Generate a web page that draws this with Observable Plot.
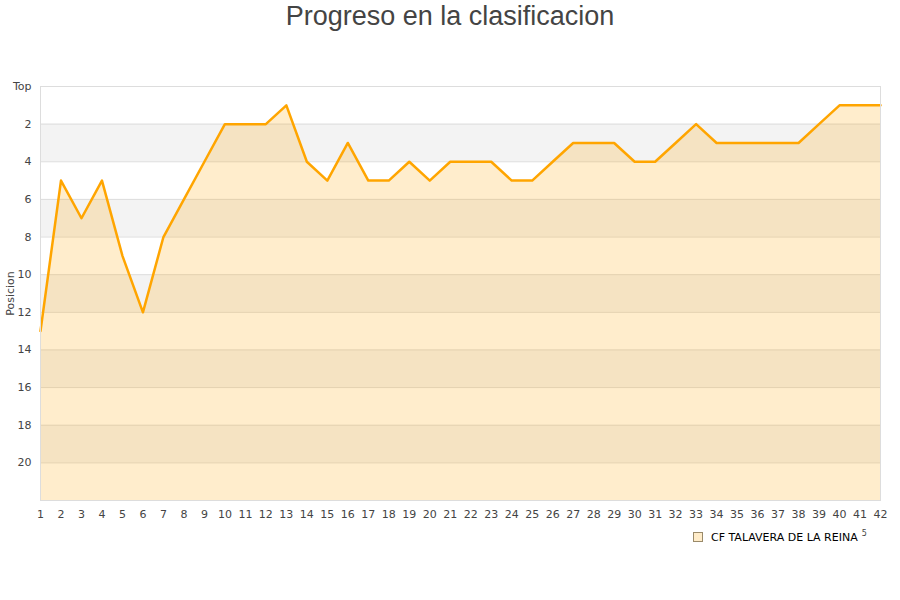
<!DOCTYPE html>
<html>
<head>
<meta charset="utf-8">
<script src="https://cdn.jsdelivr.net/npm/d3@7"></script>
<script src="https://cdn.jsdelivr.net/npm/@observablehq/plot@0.6"></script>
<style>
  body { margin: 0; background: #fff; position: relative; width: 900px; height: 600px; }
  #title { height: 40px; text-align: center; font-family: "Liberation Sans", Arial, sans-serif; font-size: 27px; color: #444; line-height: 32px; }
  #legend { position: absolute; left: 693px; top: 529px; font-family: "DejaVu Sans", sans-serif; font-size: 11px; color: #000; }
  #legend .sw { display: inline-block; width: 8px; height: 8px; background: #ffecc9; border: 1px solid #9a8a6a; margin-right: 8px; vertical-align: -1px; }
  #legend sup { font-size: 8px; color: #444; margin-left: 4px; }
</style>
</head>
<body>
<div id="title">Progreso en la clasificacion</div>
<div id="chart"></div>
<div id="legend"><span class="sw"></span>CF TALAVERA DE LA REINA<sup>5</sup></div>
<script>
// jornadas y posicion de cada jornada
const jornadas = d3.range(1, 43);
const posiciones = [13, 5, 7, 5, 9, 12, 8, 6, 4, 2, 2, 2, 1, 4, 5, 3, 5, 5, 4, 5, 4,
                    4, 4, 5, 5, 4, 3, 3, 3, 4, 4, 3, 2, 3, 3, 3, 3, 3, 2, 1, 1, 1];
const yTicks = [0, 2, 4, 6, 8, 10, 12, 14, 16, 18, 20];
const equipo = "CF TALAVERA DE LA REINA";

const datos = jornadas.map((j, i) => ({jornada: j, pos: posiciones[i]}));
// franjas grises alternas
const franjas = [2, 6, 10, 14, 18].map(b => ({y1: b, y2: b + 2}));

const plot = Plot.plot({
    width: 900,
    height: 480,
    marginTop: 46,
    marginLeft: 40,
    marginRight: 20,
    marginBottom: 20,
    x: {domain: [1, 42]},
    y: {domain: [0, 22], reverse: true},
    style: {
        fontFamily: "'DejaVu Sans', sans-serif",
        fontSize: "11px",
        color: "#444",
        background: "#fff"
    },
    marks: [
        Plot.rect(franjas, {y1: "y1", y2: "y2", fill: "#f3f3f3"}),
        Plot.ruleY(yTicks.slice(1), {stroke: "#ddd"}),
        Plot.areaY(datos, {x: "jornada", y1: 22, y2: "pos", fill: "orange", fillOpacity: 0.2}),
        Plot.lineY(datos, {x: "jornada", y: "pos", stroke: "orange", strokeWidth: 2.5}),
        Plot.frame({stroke: "#ddd"}),
        Plot.axisX({ticks: jornadas, tickSize: 0, tickPadding: 10, tickFormat: d => d, label: null}),
        Plot.axisY({ticks: yTicks, tickSize: 0, tickPadding: 9,
                    tickFormat: d => d === 0 ? "Top" : d,
                    label: "Posicion", labelAnchor: "center", labelArrow: "none", labelOffset: 34})
    ]
});

d3.select("#chart").append(() => plot);
</script>
</body>
</html>
